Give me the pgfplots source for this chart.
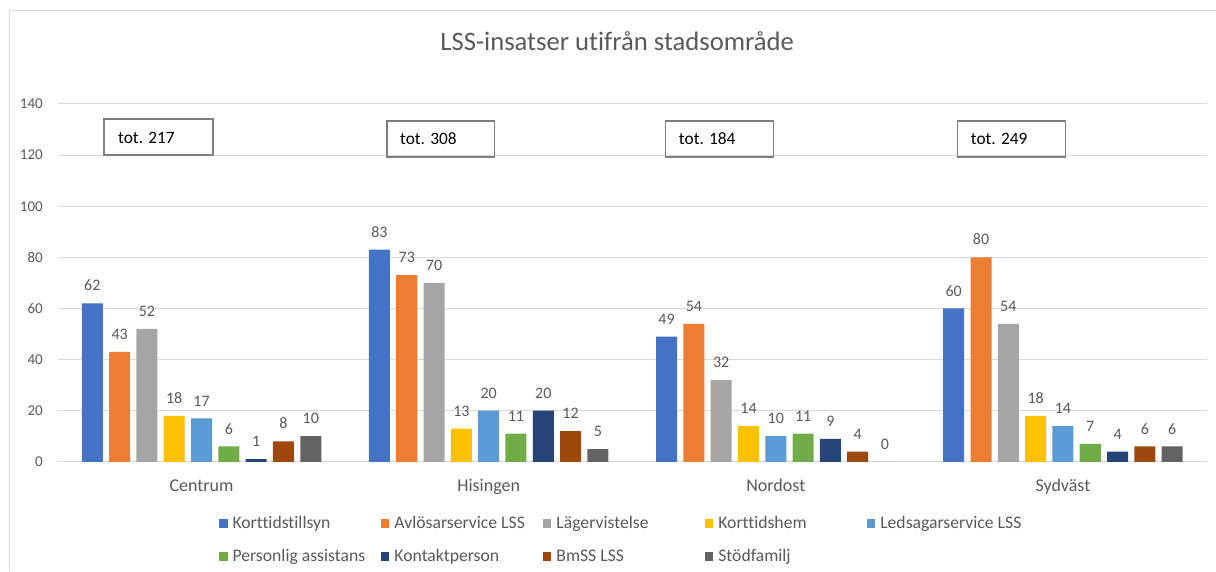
\documentclass[border=0pt]{standalone}
\usepackage{pgfplots}
\pgfplotsset{compat=1.18}
\usepackage{fontspec}
\setmainfont{Carlito}[Ligatures=NoCommon]

\definecolor{c1}{HTML}{4472C4}
\definecolor{c2}{HTML}{ED7D31}
\definecolor{c3}{HTML}{A5A5A5}
\definecolor{c4}{HTML}{FFC000}
\definecolor{c5}{HTML}{5B9BD5}
\definecolor{c6}{HTML}{70AD47}
\definecolor{c7}{HTML}{264478}
\definecolor{c8}{HTML}{9E480E}
\definecolor{c9}{HTML}{636363}
\definecolor{labgray}{HTML}{595959}
\definecolor{gridgray}{HTML}{D9D9D9}
\definecolor{boxgray}{HTML}{7F7F7F}

% one series per service, x = area (0 Centrum, 1 Hisingen, 2 Nordost, 3 Sydväst)
\pgfplotsset{ser/.style 2 args={fill=#1, draw=none, bar shift=#2}}
\newcommand{\LE}[1]{\hspace*{3.75pt}\makebox[111.25pt][l]{#1}}

\begin{document}
\begin{tikzpicture}
\begin{scope}[x=0.75pt,y=-0.75pt,xshift=-43.5pt,yshift=346.5pt]
  \useasboundingbox (0,0) rectangle (1216,571);
\end{scope}

\begin{axis}[
    scale only axis,
    width=861.75pt, height=268.5pt,
    ybar, bar width=0.0732,
    xmin=-0.5, xmax=3.5, ymin=0, ymax=140,
    enlargelimits=false,
    xtick={0,1,2,3},
    xticklabels={Centrum,Hisingen,Nordost,Sydväst},
    ytick={0,20,...,140},
    ymajorgrids,
    grid style={draw=gridgray, line width=0.75pt},
    axis line style={draw=none},
    major tick length=0pt,
    /pgf/number format/assume math mode=true,
    xticklabel style={font=\fontsize{13.5}{16}\selectfont, text=labgray,
      anchor=base, inner sep=0pt, yshift=-22.5pt},
    yticklabel style={font=\fontsize{11.25}{13}\selectfont, text=labgray,
      anchor=east, inner sep=0pt, xshift=-11.25pt},
    nodes near coords,
    every node near coord/.append style={font=\fontsize{12}{14}\selectfont,
      text=labgray, inner sep=0pt, yshift=9pt},
    legend image code/.code={\fill[#1] (0pt,-2.9pt) rectangle (6.5pt,3.6pt);},
    legend columns=5,
    legend style={draw=none, fill=none, inner sep=0pt, outer sep=0pt,
      column sep=0pt, row sep=12.5pt,
      at={(axis description cs:0.1401,-0.2207)}, anchor=west,
      font=\fontsize{13.25}{15}\selectfont, text=labgray,
      nodes={inner sep=0pt, text height=9.5pt, text depth=2.75pt}},
  ]
  \addplot[ser={c1}{-0.3804}] coordinates {(0,62) (1,83) (2,49) (3,60)};
  \addlegendentry{\LE{Korttidstillsyn}}
  \addplot[ser={c2}{-0.2853}] coordinates {(0,43) (1,73) (2,54) (3,80)};
  \addlegendentry{\LE{Avlösarservice LSS}}
  \addplot[ser={c3}{-0.1902}] coordinates {(0,52) (1,70) (2,32) (3,54)};
  \addlegendentry{\LE{Lägervistelse}}
  \addplot[ser={c4}{-0.0951}] coordinates {(0,18) (1,13) (2,14) (3,18)};
  \addlegendentry{\LE{Korttidshem}}
  \addplot[ser={c5}{0}] coordinates {(0,17) (1,20) (2,10) (3,14)};
  \addlegendentry{\LE{Ledsagarservice LSS}}
  \addplot[ser={c6}{0.0951}] coordinates {(0,6) (1,11) (2,11) (3,7)};
  \addlegendentry{\LE{Personlig assistans}}
  \addplot[ser={c7}{0.1902}] coordinates {(0,1) (1,20) (2,9) (3,4)};
  \addlegendentry{\LE{Kontaktperson}}
  \addplot[ser={c8}{0.2853}] coordinates {(0,8) (1,12) (2,4) (3,6)};
  \addlegendentry{\LE{BmSS LSS}}
  \addplot[ser={c9}{0.3804}] coordinates {(0,10) (1,5) (2,0) (3,6)};
  \addlegendentry{\LE{Stödfamilj}}
\end{axis}

\begin{scope}[x=0.75pt,y=-0.75pt,xshift=-43.5pt,yshift=346.5pt]
  \draw[gridgray, line width=0.75pt] (10,571) -- (10,11) -- (1216,11);
  \node[anchor=base, inner sep=0pt, text=labgray, font=\fontsize{20}{24}\selectfont]
    at (617.5,50.7) {LSS-insatser utifrån stadsområde};
  \begin{scope}[boxgray, line width=1pt]
    \draw (104,119) rectangle (213,155);
    \draw (387,121) rectangle (495,157);
    \draw (666,121) rectangle (774,157);
    \draw (958,121) rectangle (1066,157);
  \end{scope}
  \begin{scope}[every node/.style={anchor=base west, inner sep=0pt,
      font=\fontsize{13}{15}\selectfont, text=black}]
    \node at (118,143.3) {tot. 217};
    \node at (400,144.5) {tot. 308};
    \node at (679,144.5) {tot. 184};
    \node at (971,144.5) {tot. 249};
  \end{scope}
\end{scope}
\end{tikzpicture}
\end{document}
